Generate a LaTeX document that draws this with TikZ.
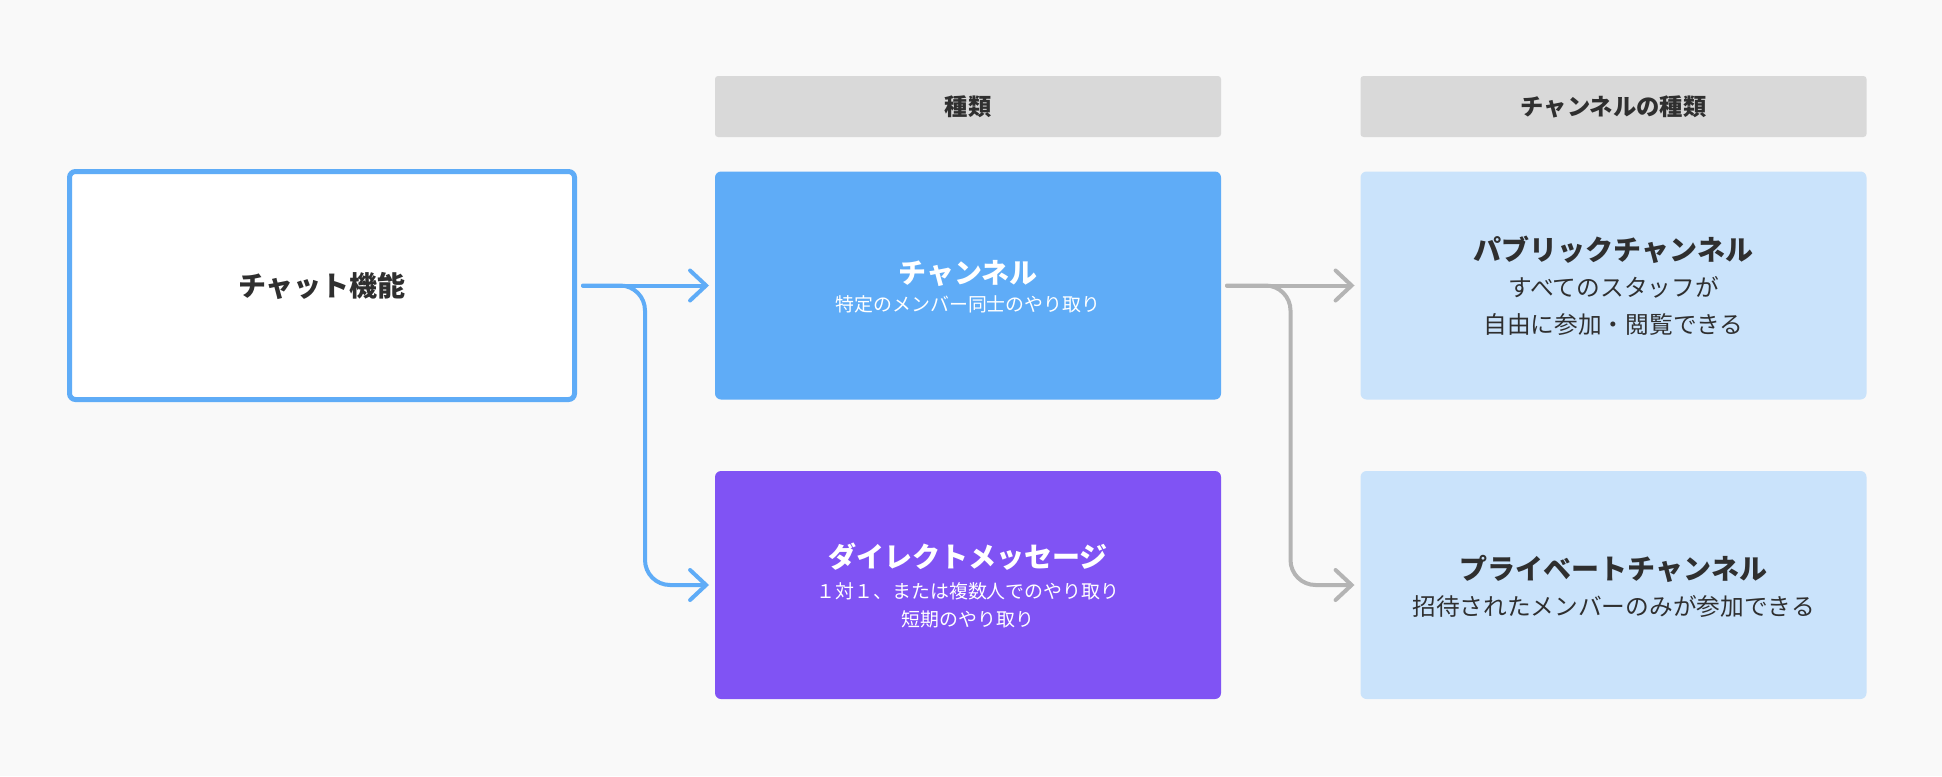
\documentclass[tikz,border=0pt]{standalone}
\usepackage{fontspec}
\newfontfamily\jp{Noto Sans CJK JP}
\usetikzlibrary{arrows.meta,calc}
\definecolor{bg}{HTML}{F9F9F9}
\definecolor{mainblue}{HTML}{5FACF7}
\definecolor{purp}{HTML}{8053F4}
\definecolor{light}{HTML}{CAE3FB}
\definecolor{hdr}{HTML}{D9D9D9}
\definecolor{garrow}{HTML}{B4B4B4}
\definecolor{txt}{HTML}{2F2F2F}
\begin{document}
\begin{tikzpicture}[x=1pt,y=-1pt,
  box/.style={rounded corners=6, minimum width=506, minimum height=228, inner sep=0, outer sep=0},
  hdrbox/.style={fill=hdr, rounded corners=3, minimum width=506, minimum height=61, inner sep=0, outer sep=0, text=txt, font=\jp\bfseries\fontsize{23.3}{27}\selectfont},
  bigt/.style={font=\jp\bfseries\fontsize{28}{33}\selectfont, inner sep=0},
  smallt/.style={font=\jp\fontsize{18.9}{22}\selectfont, inner sep=0},
  midt/.style={font=\jp\fontsize{23.7}{28}\selectfont, inner sep=0},
  barrow/.style={line width=4, line cap=round, draw=mainblue, -{Straight Barb[length=16pt,width=30pt,line cap=round]}},
  garr/.style={line width=4, line cap=round, draw=garrow, -{Straight Barb[length=16pt,width=30pt,line cap=round]}}
]
\fill[bg] (0,0) rectangle (1942,776);
\useasboundingbox (0,0) rectangle (1942,776);

% headers
\node[hdrbox] (h1) at (968,106.5) {種類};
\node[hdrbox] (h2) at (1613.5,106.5) {チャンネルの種類};

% left box
\node[box, draw=mainblue, fill=white, line width=5, minimum width=505, minimum height=228, outer sep=2.5] (left) at (322,285.5) {};
\node[bigt, text=txt] (leftT) at (left.center) {チャット機能};

% channel
\node[box, fill=mainblue] (ch) at (968,285.5) {};
\node[bigt, text=white] (chT) at ($(ch.center)+(0,-12.5)$) {チャンネル};
\node[smallt, text=white] (chS) at ($(ch.center)+(0,18.5)$) {特定のメンバー同士のやり取り};

% direct message
\node[box, fill=purp] (dm) at (968,585) {};
\node[bigt, text=white] (dmT) at ($(dm.center)+(0,-28)$) {ダイレクトメッセージ};
\node[smallt, text=white] (dmS1) at ($(dm.center)+(0,6.5)$) {１対１、または複数人でのやり取り};
\node[smallt, text=white] (dmS2) at ($(dm.center)+(0,34.5)$) {短期のやり取り};

% public
\node[box, fill=light] (pub) at (1613.5,285.5) {};
\node[bigt, text=txt] (pubT) at ($(pub.center)+(0,-36)$) {パブリックチャンネル};
\node[midt, text=txt] (pubS1) at ($(pub.center)+(0,2)$) {すべてのスタッフが};
\node[midt, text=txt] (pubS2) at ($(pub.center)+(0,39)$) {自由に参加・閲覧できる};

% private
\node[box, fill=light] (pri) at (1613.5,585) {};
\node[bigt, text=txt] (priT) at ($(pri.center)+(0,-16)$) {プライベートチャンネル};
\node[midt, text=txt] (priS) at ($(pri.center)+(0,21.5)$) {招待されたメンバーのみが参加できる};

% connectors
\draw[barrow] ([xshift=6]left.east) -- ([xshift=-6]ch.west);
\draw[barrow, rounded corners=25] ([xshift=6]left.east) -| ([xshift=-70]dm.west) -- ([xshift=-6]dm.west);
\draw[garr] ([xshift=6]ch.east) -- ([xshift=-6]pub.west);
\draw[garr, rounded corners=25] ([xshift=6]ch.east) -| ([xshift=-70]pri.west) -- ([xshift=-6]pri.west);
\end{tikzpicture}
\end{document}
